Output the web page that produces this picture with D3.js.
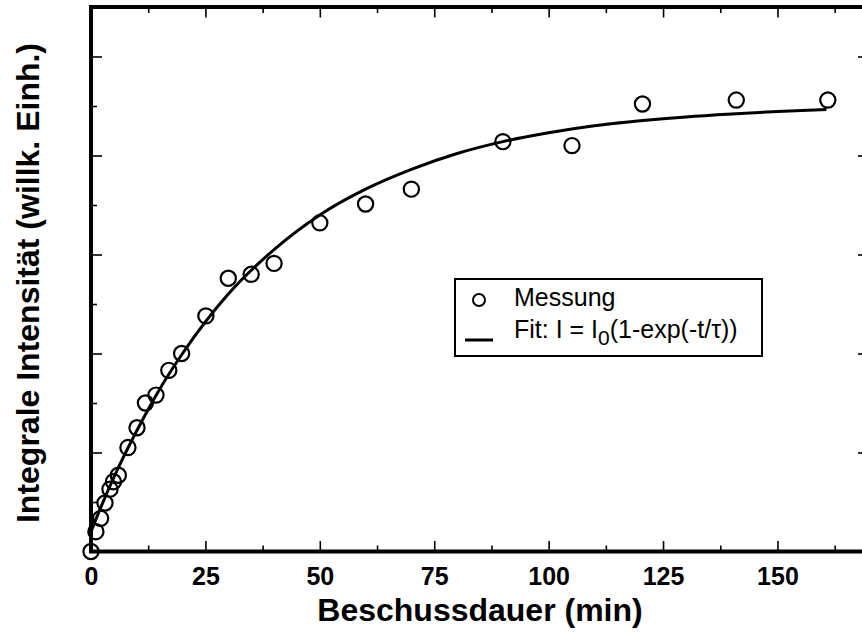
<!DOCTYPE html>
<html>
<head>
<meta charset="utf-8">
<script src="https://cdn.jsdelivr.net/npm/d3@7"></script>
<style>
    body { margin: 0; background: #fff; }
    svg { display: block; }
    text { font-family: "Liberation Sans", Arial, Helvetica, sans-serif; }
</style>
</head>
<body>
<svg id="chart"></svg>
<script>
// Messpunkte: Beschussdauer (min) und Intensitaet (willk. Einh.)
const measTime = [0, 1.07, 2.1, 3.06, 4.15, 4.9, 5.97, 8.07, 10.05, 11.9, 14.2, 17, 19.8,
    25.1, 30, 35, 40, 50, 60, 70, 90, 105.1, 120.5, 141, 161];
const measValue = [0, 0.2, 0.335, 0.49, 0.63, 0.705, 0.77, 1.05, 1.25, 1.5, 1.58, 1.83, 2.0,
    2.38, 2.76, 2.8, 2.91, 3.32, 3.51, 3.66, 4.14, 4.1, 4.52, 4.56, 4.56];

// Fit-Kurve
const fitTime = [0, 2, 5, 10, 15, 20, 30, 40, 50, 60, 70, 80, 90, 100, 110, 120, 130, 140, 150, 160.7];
const fitValue = [0.2, 0.43, 0.75, 1.22, 1.64, 2.0, 2.6, 3.05, 3.4, 3.66, 3.86, 4.02, 4.14,
    4.23, 4.3, 4.35, 4.39, 4.42, 4.445, 4.465];

const xMajorTicks = [0, 25, 50, 75, 100, 125, 150];
const xMinorTicks = [12.5, 37.5, 62.5, 87.5, 112.5, 137.5, 162.5];
const yMajorTicks = [1, 2, 3, 4, 5];
const yMinorTicks = [0.5, 1.5, 2.5, 3.5, 4.5];

const width = 862;
const height = 633;
const plot = { left: 91, right: 869, top: 7, bottom: 551.5 };

const svg = d3.select("#chart")
    .attr("width", width)
    .attr("height", height);

const x = d3.scaleLinear()
    .domain([0, 170])
    .range([plot.left, plot.right]);

const y = d3.scaleLinear()
    .domain([0, 5.5])
    .range([plot.bottom, plot.top]);

// Ticks on all four sides, pointing inward
function styleAxis(g) {
    g.select(".domain").remove();
    g.selectAll(".tick line").attr("stroke", "#000").attr("stroke-width", 1.6);
}

svg.append("g")
    .attr("transform", `translate(0, ${plot.bottom})`)
    .call(d3.axisBottom(x).tickValues(xMajorTicks).tickSize(-10.5).tickPadding(16).tickFormat(d3.format("d")))
    .call(styleAxis)
    .selectAll("text")
    .attr("fill", "#000")
    .style("font-size", "25px")
    .style("font-weight", "bold");

svg.append("g")
    .attr("transform", `translate(0, ${plot.bottom})`)
    .call(d3.axisBottom(x).tickValues(xMinorTicks).tickSize(-6).tickFormat(""))
    .call(styleAxis);

svg.append("g")
    .attr("transform", `translate(0, ${plot.top})`)
    .call(d3.axisTop(x).tickValues(xMajorTicks).tickSize(-10.5).tickFormat(""))
    .call(styleAxis);

svg.append("g")
    .attr("transform", `translate(0, ${plot.top})`)
    .call(d3.axisTop(x).tickValues(xMinorTicks).tickSize(-6).tickFormat(""))
    .call(styleAxis);

svg.append("g")
    .attr("transform", `translate(${plot.left}, 0)`)
    .call(d3.axisLeft(y).tickValues(yMajorTicks).tickSize(-11).tickFormat(""))
    .call(styleAxis);

svg.append("g")
    .attr("transform", `translate(${plot.left}, 0)`)
    .call(d3.axisLeft(y).tickValues(yMinorTicks).tickSize(-6).tickFormat(""))
    .call(styleAxis);

svg.append("g")
    .attr("transform", `translate(${plot.right}, 0)`)
    .call(d3.axisRight(y).tickValues(yMajorTicks).tickSize(-11).tickFormat(""))
    .call(styleAxis);

svg.append("g")
    .attr("transform", `translate(${plot.right}, 0)`)
    .call(d3.axisRight(y).tickValues(yMinorTicks).tickSize(-6).tickFormat(""))
    .call(styleAxis);

// Frame
svg.append("rect")
    .attr("x", plot.left)
    .attr("y", plot.top)
    .attr("width", plot.right - plot.left)
    .attr("height", plot.bottom - plot.top)
    .attr("fill", "none")
    .attr("stroke", "#000")
    .attr("stroke-width", 4);

// Fit curve
const fitData = fitTime.map((t, i) => ({ t: t, v: fitValue[i] }));
const line = d3.line()
    .x(d => x(d.t))
    .y(d => y(d.v))
    .curve(d3.curveMonotoneX);

svg.append("path")
    .datum(fitData)
    .attr("d", line)
    .attr("fill", "none")
    .attr("stroke", "#000")
    .attr("stroke-width", 3);

// Measurement points
const measData = measTime.map((t, i) => ({ t: t, v: measValue[i] }));
svg.selectAll(".meas")
    .data(measData)
    .enter()
    .append("circle")
    .attr("class", "meas")
    .attr("cx", d => x(d.t))
    .attr("cy", d => y(d.v))
    .attr("r", 7.6)
    .attr("fill", "none")
    .attr("stroke", "#000")
    .attr("stroke-width", 2.2);

// Axis titles
svg.append("text")
    .attr("x", (plot.left + plot.right) / 2)
    .attr("y", 621)
    .attr("text-anchor", "middle")
    .style("font-size", "32px")
    .style("font-weight", "bold")
    .text("Beschussdauer (min)");

svg.append("text")
    .attr("transform", "translate(39, 283) rotate(-90)")
    .attr("text-anchor", "middle")
    .style("font-size", "32px")
    .style("font-weight", "bold")
    .text("Integrale Intensität (willk. Einh.)");

// Legend
const legend = svg.append("g");

legend.append("rect")
    .attr("x", 455)
    .attr("y", 279)
    .attr("width", 307)
    .attr("height", 77)
    .attr("fill", "#fff")
    .attr("stroke", "#000")
    .attr("stroke-width", 2);

legend.append("circle")
    .attr("cx", 479)
    .attr("cy", 300)
    .attr("r", 6)
    .attr("fill", "none")
    .attr("stroke", "#000")
    .attr("stroke-width", 2);

legend.append("text")
    .attr("x", 514)
    .attr("y", 306)
    .style("font-size", "25px")
    .text("Messung");

legend.append("line")
    .attr("x1", 465)
    .attr("x2", 493)
    .attr("y1", 340)
    .attr("y2", 340)
    .attr("stroke", "#000")
    .attr("stroke-width", 3);

const fitLabel = legend.append("text")
    .attr("x", 514)
    .attr("y", 338)
    .style("font-size", "25px");
fitLabel.append("tspan").text("Fit: I = I");
fitLabel.append("tspan").attr("dy", 7).style("font-size", "21px").text("0");
fitLabel.append("tspan").attr("dy", -7).text("(1-exp(-t/τ))");
</script>
</body>
</html>
